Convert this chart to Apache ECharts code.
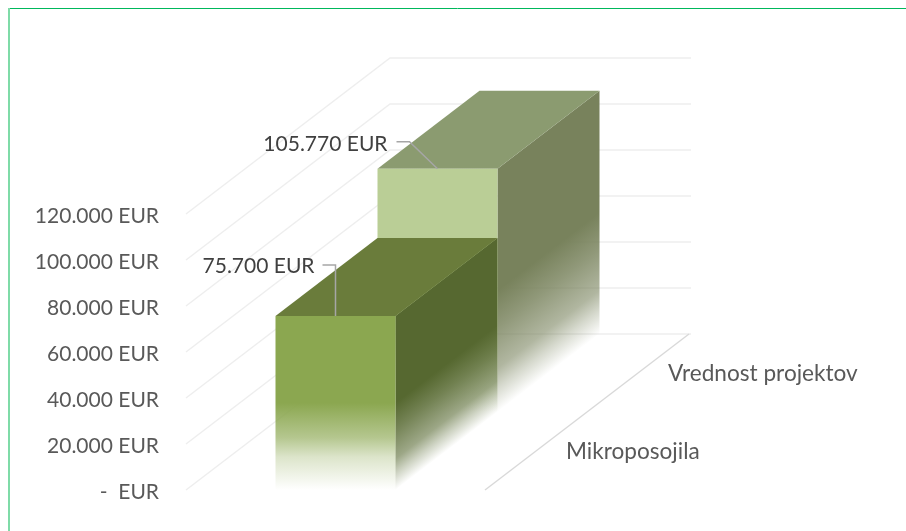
<!DOCTYPE html>
<html><head><meta charset="utf-8">
<style>html,body{margin:0;padding:0;background:#fff}#c{width:906px;height:531px}</style>
<script src="https://cdn.jsdelivr.net/npm/echarts@6/dist/echarts.min.js"></script>
</head><body><div id="c"></div>
<script>
const depthCategories = ['Mikroposojila', 'Vrednost projektov'];
const projectValues = [75700, 105770];
const valueLabels = ['75.700 EUR', '105.770 EUR'];
const yTicks = [0, 20000, 40000, 60000, 80000, 100000, 120000];
const yTickLabels = ['-  EUR', '20.000 EUR', '40.000 EUR', '60.000 EUR', '80.000 EUR', '100.000 EUR', '120.000 EUR'];

const FONT = 'Lato';
const DEPTH = [102, -78];
const WALL = 301;
const BAR_RATIO = 120 / 299;
const faces = [
  {front: '#8BA750', top: '#6A7C3B', side: '#566830', solidTo: 0.5},
  {front: '#BACE96', top: '#8B9B70', side: '#78825C', solidTo: 0.5}
];
const labelGeom = [
  {elbow: [[0, -51], [-13, -51]], text: [-21, -50]},
  {elbow: [[-28, -27], [-41, -27]], text: [-50, -24]}
];
const depthLabelGap = 30;

function fade(hex, a) {
  const n = parseInt(hex.slice(1), 16);
  return 'rgba(' + (n >> 16) + ',' + ((n >> 8) & 255) + ',' + (n & 255) + ',' + a + ')';
}
function skewFade(color, p0, p1) {
  const len2 = DEPTH[0] * DEPTH[0] + DEPTH[1] * DEPTH[1];
  const nx = -DEPTH[1], ny = DEPTH[0];
  const dx = p1[0] - p0[0], dy = p1[1] - p0[1];
  const k = (dx * nx + dy * ny) / len2;
  return {type: 'linear', global: true, x: p0[0], y: p0[1], x2: p0[0] + nx * k, y2: p0[1] + ny * k,
    colorStops: [{offset: 0, color: color}, {offset: 0.3, color: fade(color, 0.82)},
      {offset: 0.64, color: fade(color, 0.58)}, {offset: 0.8, color: fade(color, 0.31)},
      {offset: 1, color: fade(color, 0)}]};
}
function poly(points, fill) {
  return {type: 'polygon', shape: {points: points}, style: {fill: fill, stroke: null}};
}
function wallItem(params, api) {
  const c = api.coord([0, api.value(1)]);
  const w = api.size([1, 0])[0];
  const p = [c[0] - w / 2, c[1]];
  const back = [p[0] + DEPTH[0] * 2, p[1] + DEPTH[1] * 2];
  return {type: 'polyline', shape: {points: [p, back, [back[0] + WALL, back[1]]]},
    style: {stroke: '#EEEEEE', lineWidth: 1.4, fill: null}};
}
function floorEdgeItem(params, api) {
  const p = api.coord([0, 0]);
  const w = api.size([1, 0])[0];
  const a = [p[0] + w / 2, p[1]];
  return {type: 'line', shape: {x1: a[0], y1: a[1], x2: a[0] + DEPTH[0] * 2, y2: a[1] + DEPTH[1] * 2},
    style: {stroke: '#D9D9D9', lineWidth: 1.4}};
}
function barItem(params, api) {
  const d = api.value(0), v = api.value(1);
  const base0 = api.coord([0, 0]), top0 = api.coord([0, v]);
  const slotW = api.size([1, 0])[0], bw = slotW * BAR_RATIO;
  const ox = DEPTH[0] * d, oy = DEPTH[1] * d;
  const l = base0[0] - bw / 2 + ox, r = l + bw;
  const b = base0[1] + oy, t = top0[1] + oy;
  const c = faces[d];
  const h = b - t;
  const frontFill = {type: 'linear', x: 0, y: 0, x2: 0, y2: 1, colorStops: [
    {offset: 0, color: c.front}, {offset: c.solidTo, color: c.front},
    {offset: 0.6, color: fade(c.front, 0.82)}, {offset: 0.7, color: fade(c.front, 0.64)},
    {offset: 0.81, color: fade(c.front, 0.3)}, {offset: 1, color: fade(c.front, 0)}]};
  const children = [
    poly([[r, t], [r + DEPTH[0], t + DEPTH[1]], [r + DEPTH[0], b + DEPTH[1]], [r, b]],
      skewFade(c.side, [r, t + h * c.solidTo], [r, b])),
    poly([[l, t], [r, t], [r + DEPTH[0], t + DEPTH[1]], [l + DEPTH[0], t + DEPTH[1]]], c.top),
    poly([[l, t], [r, t], [r, b], [l, b]], frontFill)
  ];
  const g = labelGeom[d];
  const anchor = [(l + r) / 2, t];
  children.push({type: 'polyline', shape: {points: [anchor].concat(g.elbow.map(function (e) {
    return [anchor[0] + e[0], anchor[1] + e[1]];
  }))}, style: {stroke: '#A6A6A6', lineWidth: 1.5, fill: null}});
  children.push({type: 'text', style: {x: anchor[0] + g.text[0], y: anchor[1] + g.text[1],
    text: valueLabels[d], align: 'right', verticalAlign: 'middle',
    fill: '#404040', font: '21px ' + FONT}});
  return {type: 'group', children: children};
}
function depthLabelItem(params, api) {
  const d = api.value(0);
  const p = api.coord([0, 0]);
  const w = api.size([1, 0])[0];
  return {type: 'text', style: {
    x: p[0] + w / 2 + DEPTH[0] * (d + 0.5) + depthLabelGap,
    y: p[1] + DEPTH[1] * (d + 0.5) + 1,
    text: depthCategories[d], align: 'left', verticalAlign: 'middle',
    fill: '#595959', font: '22.6px ' + FONT}};
}

const chart = echarts.init(document.getElementById('c'), null, {renderer: 'canvas'});
chart.setOption({
  animation: false,
  backgroundColor: '#fff',
  graphic: [
    {type: 'line', shape: {x1: 9, y1: 8.5, x2: 906, y2: 8.5}, style: {stroke: '#00B85C', lineWidth: 1}},
    {type: 'line', shape: {x1: 9, y1: 8, x2: 9, y2: 531}, style: {stroke: '#7FDBA8', lineWidth: 2}}
  ],
  grid: {left: 186, top: 214, width: 299, height: 276},
  xAxis: {type: 'category', data: [''], axisLine: {show: false}, axisTick: {show: false}, axisLabel: {show: false}},
  yAxis: {type: 'value', min: 0, max: 120000, interval: 20000,
    axisLine: {show: false}, axisTick: {show: false}, splitLine: {show: false},
    axisLabel: {margin: 27, color: '#595959',
      formatter: function (v) { return '{t|' + yTickLabels[yTicks.indexOf(v)] + '}'; },
      rich: {t: {fontFamily: FONT, fontSize: 21, color: '#595959', padding: [4, 0, 0, 0]}}}},
  series: [
    {type: 'custom', clip: false, silent: true, z: 1, renderItem: wallItem,
      data: yTicks.map(function (v) { return [0, v]; })},
    {type: 'custom', clip: false, silent: true, z: 1, renderItem: floorEdgeItem, data: [[0, 0]]},
    {type: 'custom', clip: false, silent: true, z: 2, renderItem: barItem, data: [[1, projectValues[1]]]},
    {type: 'custom', clip: false, silent: true, z: 3, renderItem: barItem, data: [[0, projectValues[0]]]},
    {type: 'custom', clip: false, silent: true, z: 4, renderItem: depthLabelItem,
      data: depthCategories.map(function (n, i) { return [i, 0]; })}
  ]
});
</script></body></html>
